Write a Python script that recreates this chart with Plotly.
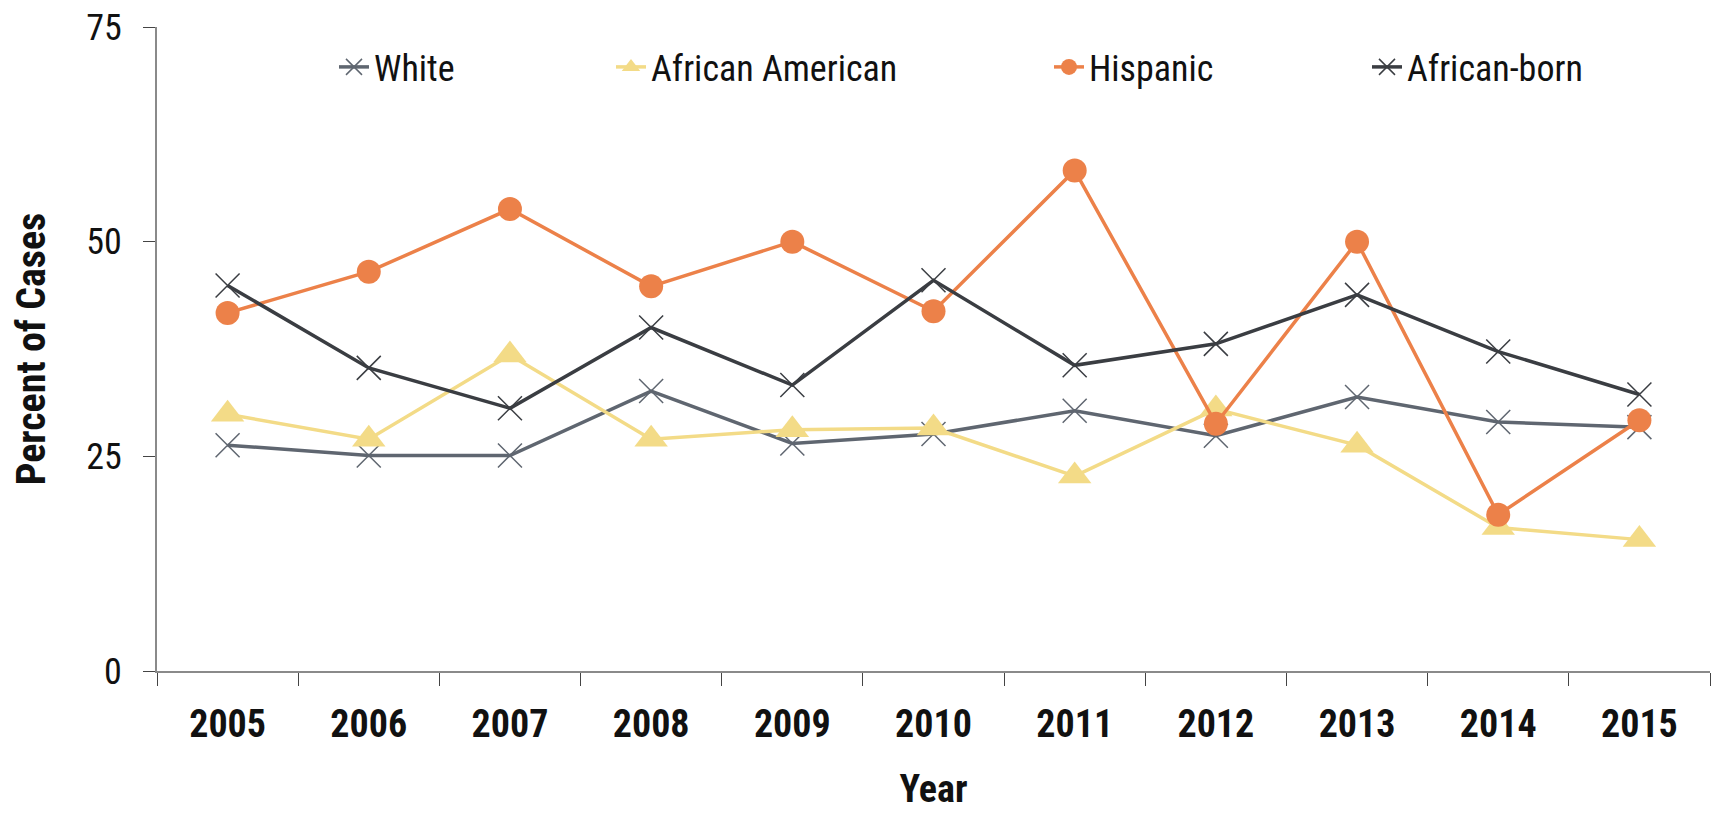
import plotly.graph_objects as go

years = ["2005", "2006", "2007", "2008", "2009", "2010", "2011", "2012", "2013", "2014", "2015"]
white = [26.3, 25.1, 25.1, 32.6, 26.5, 27.6, 30.3, 27.4, 31.9, 29.0, 28.4]
african_american = [29.9, 27.0, 36.8, 27.0, 28.1, 28.3, 22.7, 30.5, 26.3, 16.7, 15.3]
hispanic = [41.7, 46.5, 53.8, 44.8, 50.0, 41.9, 58.3, 28.8, 50.0, 18.2, 29.2]
african_born = [44.9, 35.3, 30.6, 40.0, 33.3, 45.5, 35.6, 38.1, 43.8, 37.2, 32.2]
y_ticks = [0, 25, 50, 75]

FONT = "Roboto Condensed, Noto Sans Condensed, Open Sans Condensed, DejaVu Sans Condensed, Liberation Sans Narrow, Roboto, sans-serif"

# page has an 8px body margin; positions below are in figure coordinates
W, H = 1720, 813
OFF = 8
L, R, T, B = 157 - OFF, 18, 27 - OFF, 142 + OFF
pw, ph = W - L - R, H - T - B

def px_x(x):
    return (x - OFF - L) / pw

def px_y(y):
    return (H - B - (y - OFF)) / ph

fig = go.Figure()

series = [
    ("White", white, "#5f6670", dict(symbol="x-thin-open", size=24, color="#5f6670", line=dict(width=1.5, color="#5f6670")), "legend"),
    ("African American", african_american, "#f3db87", dict(symbol="triangle-up", size=29, color="#f3db87", line=dict(width=0)), "legend2"),
    ("Hispanic", hispanic, "#ec8149", dict(symbol="circle", size=24, color="#ec8149", line=dict(width=0)), "legend3"),
    ("African-born", african_born, "#3a3d42", dict(symbol="x-thin-open", size=24, color="#3a3d42", line=dict(width=1.5, color="#3a3d42")), "legend4"),
]

for name, vals, col, mk, lg in series:
    fig.add_trace(go.Scatter(
        x=years, y=vals, name=name, mode="lines+markers",
        line=dict(color=col, width=3.5), marker=mk, legend=lg,
    ))

leg_x = {"legend": 325, "legend2": 602, "legend3": 1040, "legend4": 1358}
legend_common = dict(
    orientation="h", yanchor="middle", xanchor="left",
    y=px_y(67), font=dict(family=FONT, size=36, color="#111111"),
    bgcolor="rgba(0,0,0,0)", borderwidth=0,
)
layout_legends = {}
for k, xp in leg_x.items():
    d = dict(legend_common)
    d["x"] = px_x(xp + 9)
    layout_legends[k] = d

fig.update_layout(
    width=W, height=H,
    margin=dict(l=L, r=R, t=T, b=B, autoexpand=False),
    plot_bgcolor="white", paper_bgcolor="white",
    showlegend=True,
    font=dict(family=FONT, color="#111111"),
    **layout_legends,
)

fig.update_xaxes(
    type="category", categoryorder="array", categoryarray=years,
    range=[-0.5, 10.5],
    showline=True, linecolor="#8a8a8a", linewidth=2,
    ticks="outside", tickson="boundaries", ticklen=13, tickcolor="#444444", tickwidth=1,
    showgrid=False, zeroline=False,
    tickfont=dict(family=FONT, size=38, color="#111111", weight="bold"),
    ticklabelstandoff=18,
    title=dict(text="Year", font=dict(family=FONT, size=38, color="#111111", weight="bold"), standoff=31),
    automargin=False,
)

fig.update_yaxes(
    range=[0, 75], tickvals=y_ticks, ticktext=[str(v) for v in y_ticks],
    showline=True, linecolor="#8a8a8a", linewidth=2,
    ticks="outside", ticklen=12, tickcolor="#444444", tickwidth=1,
    showgrid=False, zeroline=False,
    tickfont=dict(family=FONT, size=36, color="#111111"),
    ticklabelstandoff=14, ticklabeloverflow="allow",
    title=dict(text="Percent of Cases", font=dict(family=FONT, size=40, color="#111111", weight="bold"), standoff=30),
    automargin=False,
)

fig.write_html("out.html")
